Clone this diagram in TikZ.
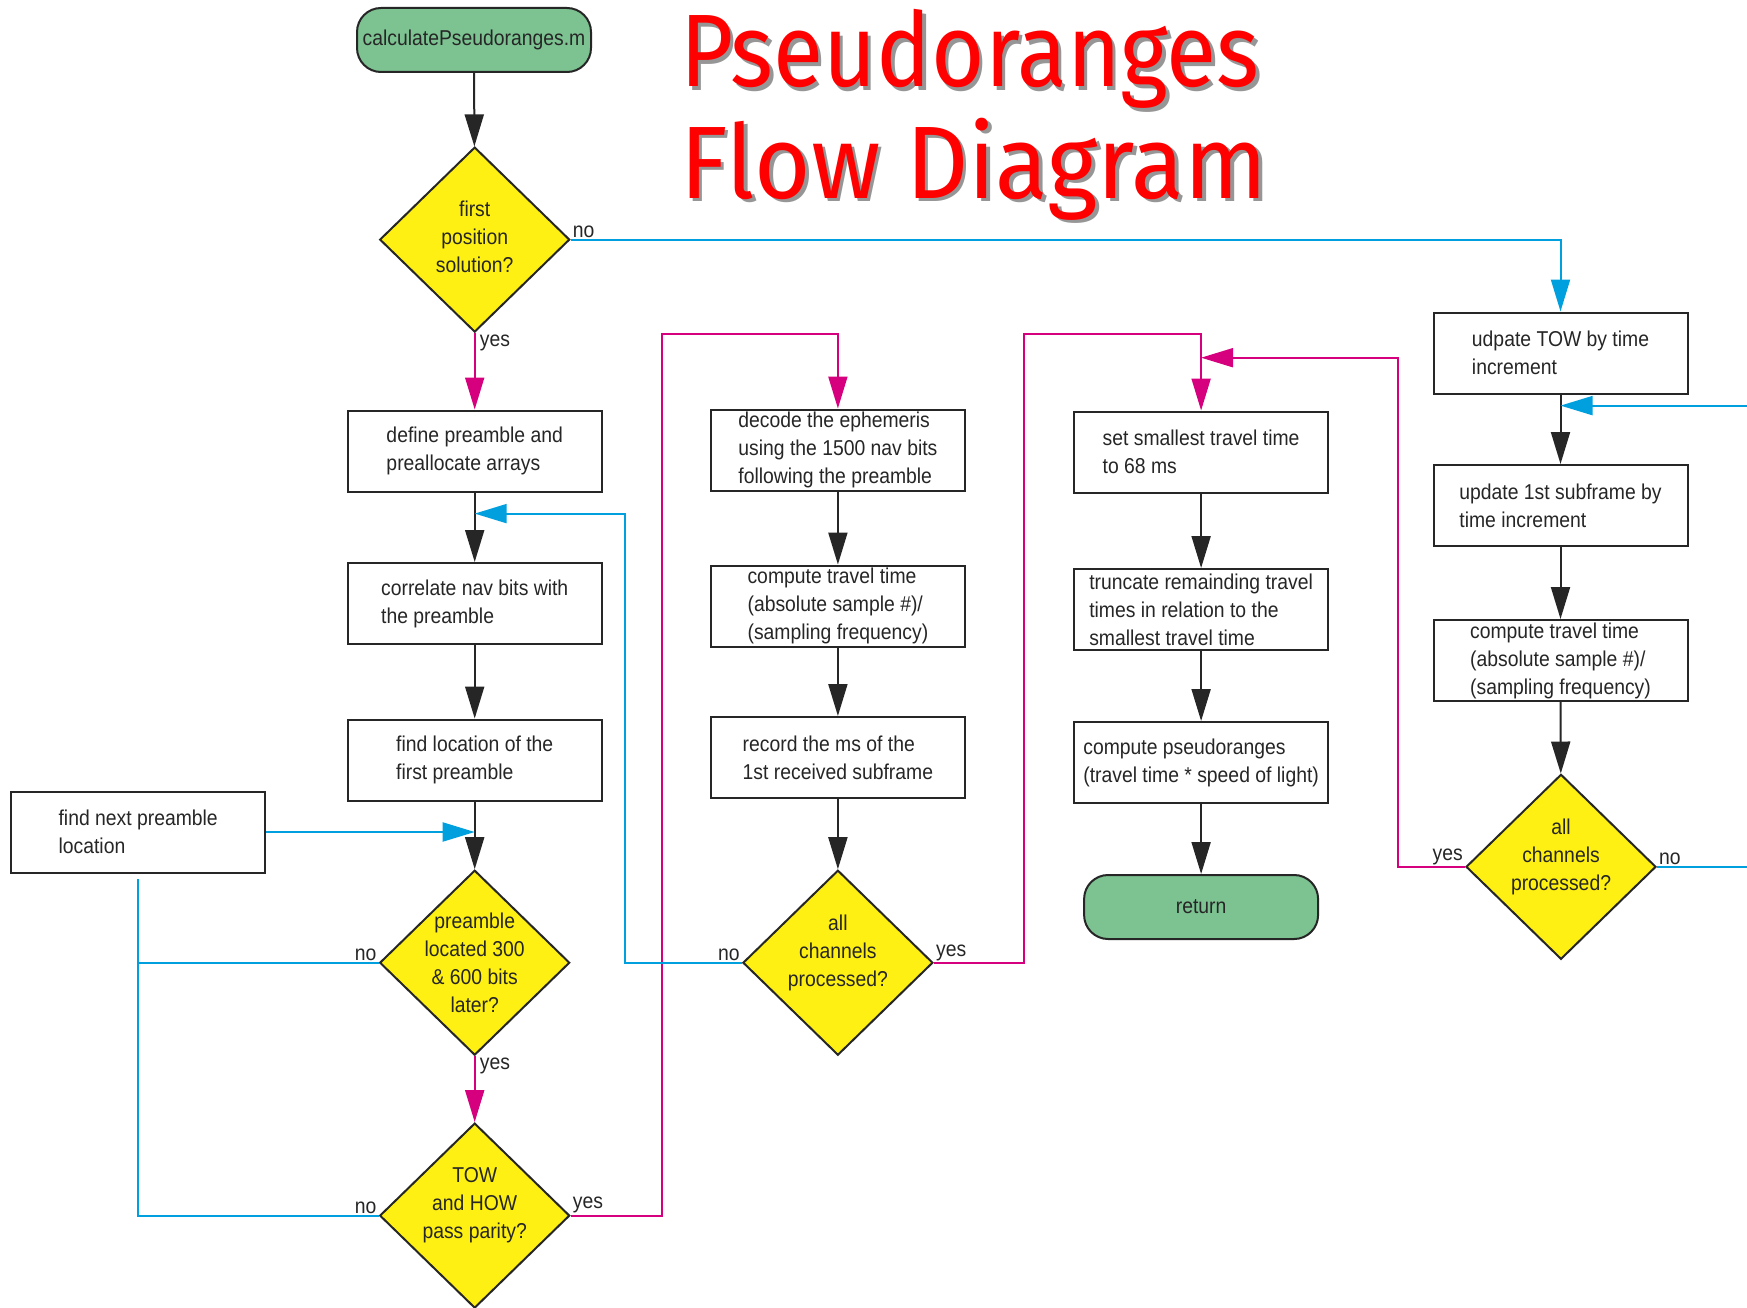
\documentclass[tikz,border=0pt]{standalone}
\usepackage{fontspec}
\setmainfont{Liberation Sans}[FakeStretch=0.9]
\newfontfamily\titlefont{Fira Sans}[FakeStretch=0.89]
\newfontfamily\titlefontwide{Fira Sans}[FakeStretch=0.94]
\usepackage{tikz}
\usetikzlibrary{arrows.meta,shapes.geometric}
\definecolor{termgreen}{RGB}{125,195,146}
\definecolor{decyellow}{RGB}{255,240,20}
\definecolor{noblue}{RGB}{0,160,222}
\definecolor{yesmag}{RGB}{214,0,127}
\definecolor{titlered}{RGB}{255,0,0}
\definecolor{shadowgray}{RGB}{150,150,150}
\newcommand\boxfont{\fontsize{21.5}{28}\selectfont}
\newcommand\shadowtxt[1]{\rlap{\textcolor{shadowgray}{\kern3.5pt\raisebox{-3.5pt}{#1}}}#1}

\begin{document}
\begin{tikzpicture}[x=1pt,y=-1pt,
    every node/.style={font=\boxfont,text=black!85},
    procbox/.style={draw=black!85,line width=2pt,fill=white,minimum width=254pt,minimum height=81pt,align=left,inner sep=0pt},
    termbox/.style={draw=black!85,line width=2pt,fill=termgreen,rounded corners=24pt,minimum width=234pt,minimum height=64pt},
    decision/.style={diamond,draw=black!85,line width=2pt,fill=decyellow,minimum width=190pt,minimum height=185pt,inner sep=-14pt,align=center},
    raised/.style={text depth=25pt},
    tip/.style={-{Triangle[length=32pt,width=19pt]}},
    flow/.style={line width=2pt,draw=black!85,tip},
    yesline/.style={line width=2pt,draw=yesmag},
    noline/.style={line width=2pt,draw=noblue},
    lbl/.style={inner sep=2pt}]
    \useasboundingbox[fill=white] (0,0) rectangle (1747,1308);
    % title
    \node[anchor=base west,inner sep=0pt,font=\titlefont\fontsize{103}{103}\selectfont,text=titlered] (title1) at (680,87) {\shadowtxt{Pseudoranges}};
    \node[anchor=base west,inner sep=0pt,font=\titlefontwide\fontsize{103}{103}\selectfont,text=titlered] (title2) at (680,198) {\shadowtxt{Flow Diagram}};
    % first column
    \node[termbox] (start) at (474,40) {calculatePseudoranges.m};
    \node[decision,text depth=5pt] (d1) at (474.7,239.6) {first\\position\\solution?};
    \node[procbox] (b1) at (474.7,451) {define preamble and\\preallocate arrays};
    \node[procbox] (b2) at (474.7,603.5) {correlate nav bits with\\the preamble};
    \node[procbox] (b3) at (474.7,760) {find location of the\\first preamble};
    \node[procbox] (b0) at (138.2,832) {find next preamble\\location};
    \node[decision] (d2) at (474.7,962.7) {preamble\\located 300\\\& 600 bits\\later?};
    \node[decision,raised] (d3) at (474.7,1215.6) {TOW\\and HOW\\pass parity?};
    % second column
    \node[procbox] (c1) at (837.9,450) {decode the ephemeris\\using the 1500 nav bits\\following the preamble};
    \node[procbox] (c2) at (837.9,606) {compute travel time\\(absolute sample \#)/\\(sampling frequency)};
    \node[procbox] (c3) at (837.9,757.5) {record the ms of the\\1st received subframe};
    \node[decision,raised] (d4) at (837.9,962.7) {all\\channels\\processed?};
    % third column
    \node[procbox] (e1) at (1201.1,452) {set smallest travel time\\to 68 ms};
    \node[procbox] (e2) at (1201.1,609.5) {truncate remainding travel\\times in relation to the\\smallest travel time};
    \node[procbox] (e3) at (1201.1,762.5) {compute pseudoranges\\(travel time * speed of light)};
    \node[termbox] (ret) at (1201.1,907) {return};
    % fourth column
    \node[procbox] (f1) at (1560.5,353) {udpate TOW by time\\increment};
    \node[procbox] (f2) at (1560.5,505.5) {update 1st subframe by\\time increment};
    \node[procbox] (f3) at (1560.5,660.5) {compute travel time\\(absolute sample \#)/\\(sampling frequency)};
    \node[decision,raised] (d5) at (1561,866.8) {all\\channels\\processed?};
    % bends and edges
    \coordinate (r1) at (661.8,334.3);
    \coordinate (r2) at (625,513.6);
    \coordinate (r3) at (1024,334.3);
    \coordinate (r4) at (1398.3,357.7);
    \coordinate (r5) at (1747,405.6);
    \coordinate (offr) at (1747,0);
    % straight flow
    \foreach \a/\b in {start/d1,b1/b2,b2/b3,b3/d2,c1/c2,c2/c3,c3/d4,e1/e2,e2/e3,e3/ret,f1/f2,f2/f3,f3/d5}
        \draw[flow] (\a) -- (\b);
    % yes branches
    \draw[yesline,tip] (d1) -- (b1);
    \draw[yesline,tip] (d2) -- (d3);
    \draw[yesline,tip] (d3.east) -| (r1) -| (c1.north);
    \draw[yesline,tip] (d4.east) -| (r3) -| (e1.north);
    \draw[yesline,tip] (d5.west) -| (r4) -- (r4 -| e1.north);
    % no branches
    \draw[noline,tip] (d1.east) -| (f1.north);
    \draw[noline,tip] (d4.west) -| (r2) -- (r2 -| b1.south);
    \draw[noline,tip] (b0.east) -- (b0.east -| b3.south);
    \draw[noline] (d2.west) -- (d2.west -| b0.south);
    \draw[noline] (d3.west) -| ([yshift=-5pt]b0.south);
    \draw[noline] (d5.east) -- (d5.east -| offr);
    \draw[noline,tip] (r5) -- (r5 -| f1.south);
    % labels
    \node[lbl,anchor=south west] (d1no) at (d1.east) {no};
    \node[lbl,anchor=north west] (d1yes) at ([xshift=3pt]d1.south) {yes};
    \node[lbl,anchor=south east] (d2no) at (d2.west) {no};
    \node[lbl,anchor=north west] (d2yes) at ([xshift=3pt]d2.south) {yes};
    \node[lbl,anchor=south east] (d3no) at (d3.west) {no};
    \node[lbl,anchor=south west] (d3yes) at (d3.east) {yes};
    \node[lbl,anchor=south east] (d4no) at (d4.west) {no};
    \node[lbl,anchor=south west] (d4yes) at (d4.east) {yes};
    \node[lbl,anchor=south east] (d5yes) at (d5.west) {yes};
    \node[lbl,anchor=south west] (d5no) at (d5.east) {no};
\end{tikzpicture}
\end{document}
